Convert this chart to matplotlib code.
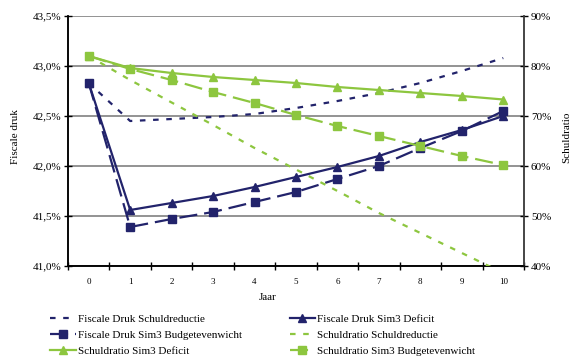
import matplotlib
matplotlib.use('Agg')
import matplotlib.pyplot as plt
from matplotlib.ticker import FixedLocator, FuncFormatter, NullFormatter

years = list(range(11))
year_labels = [str(y) for y in years]
fd_schuldreductie = [42.83, 42.45, 42.47, 42.49, 42.52, 42.58, 42.65, 42.73, 42.83, 42.95, 43.08]
fd_sim3_deficit = [42.83, 41.56, 41.63, 41.70, 41.79, 41.89, 41.99, 42.10, 42.24, 42.36, 42.50]
fd_sim3_budget = [42.83, 41.39, 41.47, 41.54, 41.64, 41.74, 41.87, 42.00, 42.18, 42.35, 42.55]
sr_schuldreductie = [82.0, 77.2, 72.7, 68.2, 63.6, 59.3, 55.0, 50.6, 46.6, 42.6, 38.6]
sr_sim3_deficit = [82.0, 79.6, 78.6, 77.8, 77.2, 76.6, 75.8, 75.2, 74.6, 74.0, 73.3]
sr_sim3_budget = [82.0, 79.4, 77.2, 74.8, 72.6, 70.2, 68.0, 66.0, 64.0, 62.0, 60.2]

NAVY = '#22236b'
GREEN = '#8dc63f'
FONT = 'Liberation Serif'
plt.rcParams['font.family'] = FONT
plt.rcParams['lines.scale_dashes'] = False

fig = plt.figure(figsize=(5.74, 3.56), dpi=100)
ax = fig.add_axes([68/574, 1-266/356, (524-68)/574, 250/356])
ax2 = ax.twinx()

lw = 1.6
dot = (0, (4.0, 5.5))
dash = (0, (13, 5))

h1, = ax.plot(years, fd_schuldreductie, color=NAVY, lw=lw, linestyle=dot,
              label='Fiscale Druk Schuldreductie', zorder=3)
h2, = ax.plot(years, fd_sim3_deficit, color=NAVY, lw=lw, marker='^', ms=5.5,
              label='Fiscale Druk Sim3 Deficit', zorder=3)
h3, = ax.plot(years, fd_sim3_budget, color=NAVY, lw=lw, linestyle=dash, marker='s', ms=6,
              label='Fiscale Druk Sim3 Budgetevenwicht', zorder=3)
h4, = ax2.plot(years, sr_schuldreductie, color=GREEN, lw=lw, linestyle=dot,
               label='Schuldratio Schuldreductie', zorder=3)
h5, = ax2.plot(years, sr_sim3_deficit, color=GREEN, lw=lw, marker='^', ms=5.5,
               label='Schuldratio Sim3 Deficit', zorder=3)
h6, = ax2.plot(years, sr_sim3_budget, color=GREEN, lw=lw, linestyle=dash, marker='s', ms=6,
               label='Schuldratio Sim3 Budgetevenwicht', zorder=3)

ax.set_xlim(-0.5, 10.5)
ax.set_ylim(41.0, 43.5)
ax2.set_ylim(40, 90)

left_ticks = [41.0, 41.5, 42.0, 42.5, 43.0, 43.5]
ax.yaxis.set_major_locator(FixedLocator(left_ticks))
ax.yaxis.set_major_formatter(FuncFormatter(lambda v, p: f'{v:.1f}%'.replace('.', ',')))
ax2.yaxis.set_major_locator(FixedLocator([40, 50, 60, 70, 80, 90]))
ax2.yaxis.set_major_formatter(FuncFormatter(lambda v, p: f'{v:.0f}%'))

ax.xaxis.set_major_locator(FixedLocator([i - 0.5 for i in range(12)]))
ax.xaxis.set_major_formatter(NullFormatter())
ax.xaxis.set_minor_locator(FixedLocator(years))
ax.set_xticklabels(year_labels, minor=True)
ax.tick_params(axis='x', which='major', direction='inout', length=6, width=1, color='black')
ax.tick_params(axis='x', which='minor', length=0, pad=9, labelsize=6.5)
ax.tick_params(axis='y', direction='inout', length=6, width=1, labelsize=8, pad=2)
ax2.tick_params(axis='y', direction='inout', length=6, width=1, labelsize=8, pad=2)

ax.grid(axis='y', color='#808080', lw=1.2, zorder=0)
ax.set_axisbelow(True)
for a in (ax, ax2):
    a.spines['top'].set_visible(False)
    a.spines['left'].set_color('black')
    a.spines['bottom'].set_color('black')
    a.spines['right'].set_color('#404040')
    for s in a.spines.values():
        s.set_linewidth(1.1)

fig.text(15/574, 1-137/356, 'Fiscale druk', rotation=90, ha='center', va='center', fontsize=8)
fig.text(567/574, 1-137/356, 'Schuldratio', rotation=90, ha='center', va='center', fontsize=8)
fig.text(268/574, 1-298/356, 'Jaar', ha='center', va='center', fontsize=8)

handles = [h1, h3, h5, h2, h4, h6]
leg = fig.legend(handles=handles, labels=[h.get_label() for h in handles], ncol=2,
                 loc='upper left', bbox_to_anchor=(50/574, 1-314/356), frameon=False,
                 fontsize=8, handlelength=2.3, handletextpad=0.2, columnspacing=4.3,
                 labelspacing=0.58, borderaxespad=0, borderpad=0)

fig.savefig('out.png', dpi=100)
